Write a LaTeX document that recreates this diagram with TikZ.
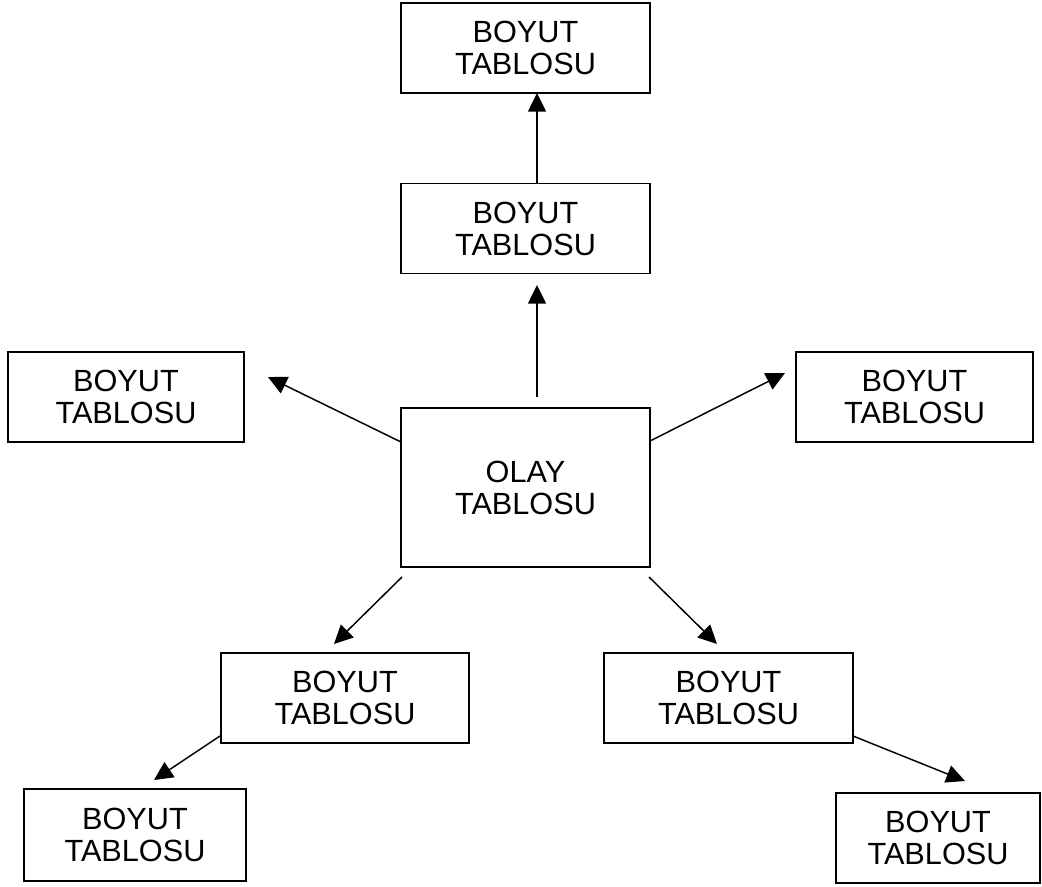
\documentclass[tikz,border=0pt]{standalone}
\usepackage{fontspec}
\setmainfont{Liberation Sans}
\usetikzlibrary{arrows.meta}
\begin{document}
\begin{tikzpicture}[x=0.75pt,y=-0.75pt,
  tbl/.style={draw=black, line width=1.4pt, align=center, inner sep=0pt,
    font=\fontsize{23pt}{24pt}\selectfont, minimum height=67.5pt},
  conn/.style={line width=1.1pt, -{Triangle[length=14pt,width=13.5pt]}}]
\useasboundingbox (0,0) rectangle (1042,886);
% boxes
\node[tbl, minimum width=186.75pt] (t1) at (525.5,48) {BOYUT\\TABLOSU};
\node[tbl, minimum width=186.75pt] (t2) at (525.5,228.5) {BOYUT\\TABLOSU};
\node[tbl, minimum width=177pt] (l) at (126,397) {BOYUT\\TABLOSU};
\node[tbl, minimum width=177.75pt] (r) at (914.5,397) {BOYUT\\TABLOSU};
\node[tbl, minimum width=186.75pt, minimum height=119.25pt] (c) at (525.5,487.5) {OLAY\\TABLOSU};
\node[tbl, minimum width=186pt] (blm) at (345,698) {BOYUT\\TABLOSU};
\node[tbl, minimum width=186.75pt] (brm) at (728.5,698) {BOYUT\\TABLOSU};
\node[tbl, minimum width=166.5pt, minimum height=69pt] (bl) at (135,835) {BOYUT\\TABLOSU};
\node[tbl, minimum width=153pt] (br) at (938,838) {BOYUT\\TABLOSU};
% connector ends
\coordinate (t2top) at (537,183);
\coordinate (t1bot) at (537,93);
\coordinate (cup) at (537,397);
\coordinate (t2tip) at (537,285);
\coordinate (cl) at (401,442);
\coordinate (ltip) at (268,377);
\coordinate (cr) at (650,441);
\coordinate (rtip) at (785,373);
\coordinate (cbl) at (402,577);
\coordinate (blmtip) at (334,644);
\coordinate (cbr) at (649,577);
\coordinate (brmtip) at (717,644);
\coordinate (blms) at (220,736);
\coordinate (bltip) at (154,780);
\coordinate (brms) at (853,736);
\coordinate (brtip) at (965,781);
% connectors
\draw[conn] (t2top) -- (t1bot);
\draw[conn] (cup) -- (t2tip);
\draw[conn] (cl) -- (ltip);
\draw[conn] (cr) -- (rtip);
\draw[conn] (cbl) -- (blmtip);
\draw[conn] (cbr) -- (brmtip);
\draw[conn] (blms) -- (bltip);
\draw[conn] (brms) -- (brtip);
\end{tikzpicture}
\end{document}
